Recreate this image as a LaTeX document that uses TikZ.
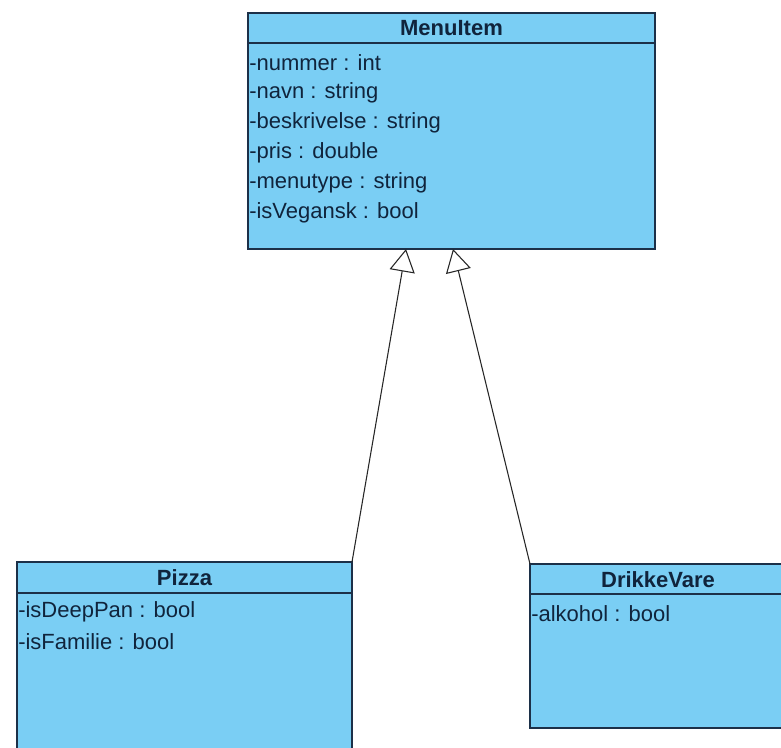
\documentclass[tikz,border=0pt]{standalone}
\usepackage{fontspec}
\setmainfont{Liberation Sans}
\usetikzlibrary{arrows.meta}
\definecolor{classfill}{RGB}{122,206,244}
\definecolor{classline}{RGB}{28,48,72}
\definecolor{classtext}{RGB}{16,36,60}

\begin{document}
\begin{tikzpicture}[x=0.75pt,y=-0.75pt,
	classbox/.style={draw=classline, fill=classfill, line width=1.1pt, rectangle, inner sep=0pt, outer sep=0pt, anchor=north west},
	classname/.style={inner sep=0pt, text=classtext, font=\fontsize{16.5}{18}\selectfont\bfseries},
	attr/.style={anchor=west, inner sep=0pt, text=classtext, font=\fontsize{16.5}{18}\selectfont},
	headline/.style={draw=classline, line width=1.1pt},
	inherit/.style={draw=black!85, line width=0.8pt, -{Triangle[open, length=17pt, width=19pt]}}]
		\clip (0,0) rectangle (781,748);
		\fill[white] (0,0) rectangle (781,748);
		
		%menu item
		\node[classbox, minimum width=305.25pt, minimum height=177pt] (menuitem) at (248,13) {};
		\node[classname] (menuitemname) at (451.5,28) {MenuItem};
		\draw[headline] (248,43) -- (655,43);
		\foreach \txt [count=\i] in {-nummer : int, -navn : string, -beskrivelse : string, -pris : double, -menutype : string, -isVegansk : bool}
			\node[attr] (menuattr\i) at (249,33+30*\i) {\txt};
		
		%pizza
		\node[classbox, minimum width=251.25pt, minimum height=150pt] (pizza) at (17,562) {};
		\node[classname] (pizzaname) at (184.5,578) {Pizza};
		\draw[headline] (17,593) -- (352,593);
		\node[attr] (pizzaattr1) at (18,612) {-isDeepPan : bool};
		\node[attr] (pizzaattr2) at (18,642) {-isFamilie : bool};
		
		%drikkevare
		\node[classbox, minimum width=192pt, minimum height=123pt] (drikke) at (530,564) {};
		\node[classname] (drikkename) at (658,580) {DrikkeVare};
		\draw[headline] (530,594) -- (786,594);
		\node[attr] (drikkeattr1) at (531,614) {-alkohol : bool};
		
		%generalisation
		\coordinate (pizzatip) at (406,249);
		\coordinate (drikketip) at (453,249);
		\draw[inherit] (pizza.north east) -- (pizzatip);
		\draw[inherit] (drikke.north west) -- (drikketip);
		
\end{tikzpicture}
\end{document}
